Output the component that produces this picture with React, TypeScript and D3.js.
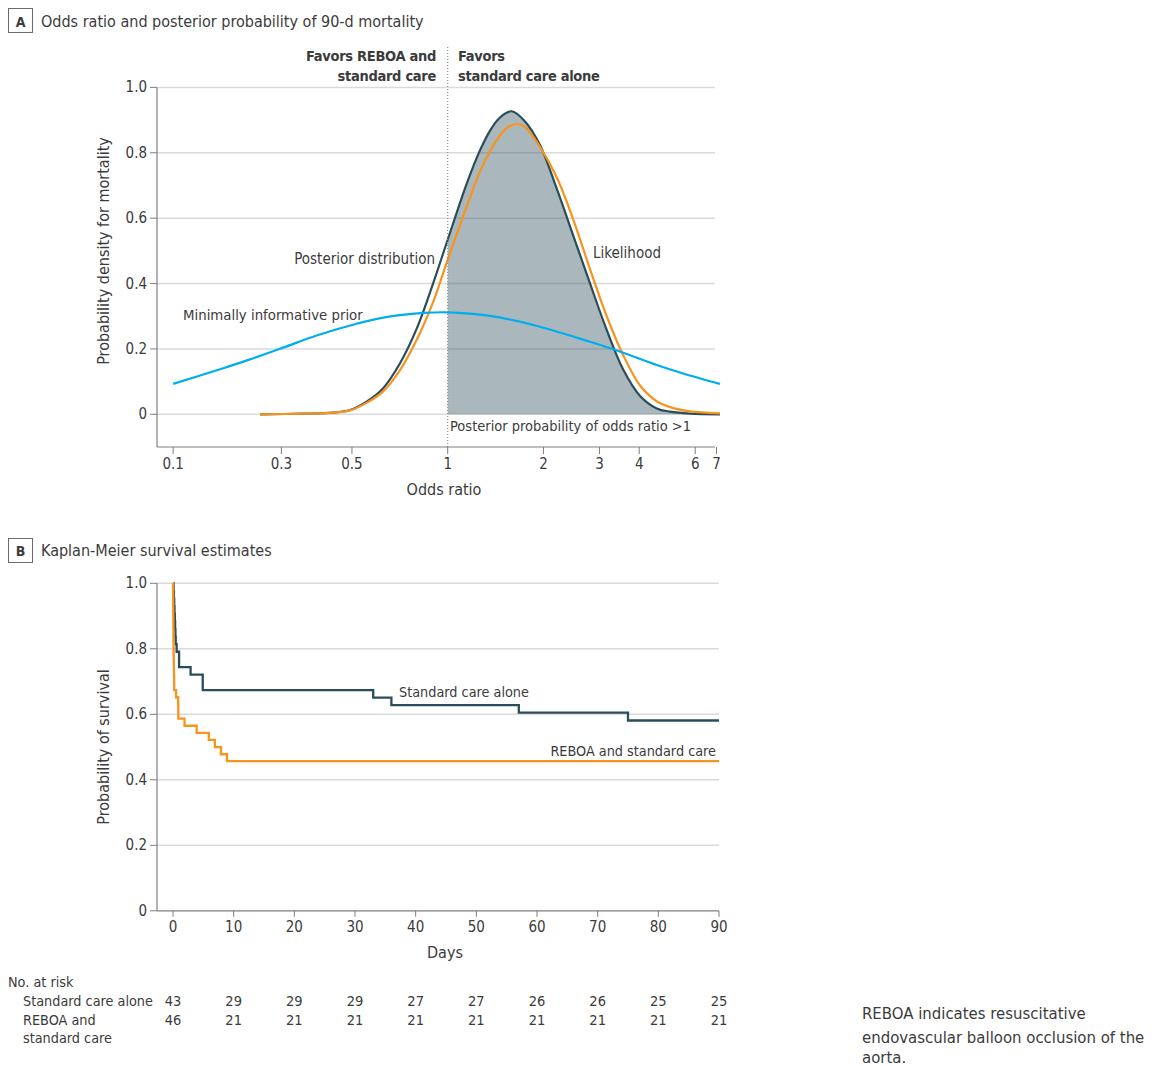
import React from 'react';
import * as d3 from 'd3';

// Panel A: densities (odds ratio, density)
const PRIOR_OR = [0.137, 0.197, 0.239, 0.304, 0.387, 0.517, 0.627, 0.838, 1.0, 1.359, 1.95, 2.8, 3.32, 4.54, 5.5, 7.18];
const PRIOR_D = [0.093, 0.141, 0.168, 0.204, 0.241, 0.277, 0.296, 0.31, 0.312, 0.301, 0.268, 0.222, 0.199, 0.151, 0.125, 0.093];

const POST_OR = [0.257, 0.35, 0.436, 0.493, 0.556, 0.627, 0.708, 0.799, 0.901, 1.0, 1.147, 1.264, 1.359, 1.46, 1.589, 1.75, 1.95, 2.202, 2.483, 2.8, 3.162, 3.566, 4.025, 4.54, 5.0, 5.78, 7.18];
const POST_D = [0, 0.002, 0.005, 0.013, 0.039, 0.08, 0.156, 0.262, 0.402, 0.534, 0.705, 0.808, 0.868, 0.908, 0.927, 0.896, 0.824, 0.69, 0.546, 0.401, 0.258, 0.136, 0.056, 0.018, 0.008, 0.002, 0];

const LIK_OR = [0.257, 0.35, 0.436, 0.493, 0.556, 0.627, 0.708, 0.799, 0.901, 1.0, 1.147, 1.264, 1.359, 1.46, 1.548, 1.648, 1.75, 1.95, 2.202, 2.483, 2.8, 3.162, 3.566, 4.025, 4.54, 5.0, 5.78, 7.18];
const LIK_D = [0, 0.002, 0.005, 0.012, 0.035, 0.07, 0.135, 0.228, 0.345, 0.473, 0.635, 0.743, 0.805, 0.853, 0.879, 0.888, 0.879, 0.818, 0.725, 0.595, 0.445, 0.3, 0.18, 0.088, 0.04, 0.022, 0.009, 0.003];

// x ticks: the leftmost "0.1" label sits at the plot's left edge
const OR_TICKS = [0.137, 0.3, 0.5, 1, 2, 3, 4, 6, 7];
const OR_TICK_LABELS = ['0.1', '0.3', '0.5', '1', '2', '3', '4', '6', '7'];
const DENS_TICKS = [0, 0.2, 0.4, 0.6, 0.8, 1.0];

// Panel B: Kaplan-Meier steps (day, survival)
const STD_T = [0, 0.1, 0.15, 0.2, 0.25, 0.3, 0.35, 0.4, 0.45, 0.6, 1.0, 2.9, 4.9, 33, 36, 57, 75, 90];
const STD_S = [1, 0.977, 0.953, 0.93, 0.907, 0.884, 0.86, 0.837, 0.814, 0.791, 0.744, 0.721, 0.674, 0.651, 0.628, 0.605, 0.581, 0.581];

const RB_T = [0, 0.01, 0.02, 0.03, 0.04, 0.05, 0.06, 0.07, 0.08, 0.09, 0.1, 0.12, 0.14, 0.16, 0.18, 0.2, 0.5, 0.85, 0.87, 0.88, 1.9, 3.9, 5.9, 6.9, 7.9, 8.9, 90];
const RB_S = [1, 0.978, 0.957, 0.935, 0.913, 0.891, 0.87, 0.848, 0.826, 0.804, 0.783, 0.761, 0.739, 0.717, 0.696, 0.674, 0.652, 0.63, 0.609, 0.587, 0.565, 0.543, 0.522, 0.5, 0.478, 0.457, 0.457];

const DAY_TICKS = [0, 10, 20, 30, 40, 50, 60, 70, 80, 90];
const SURV_TICKS = [0, 0.2, 0.4, 0.6, 0.8, 1.0];
const STD_AT_RISK = [43, 29, 29, 29, 27, 27, 26, 26, 25, 25];
const RB_AT_RISK = [46, 21, 21, 21, 21, 21, 21, 21, 21, 21];

const FONT = "'Liberation Sans Narrow', 'DejaVu Sans Condensed', 'Open Sans', sans-serif";
const TEXT = '#3b3b3b';
const GRID = '#dadada';
const AXIS = '#7f7f7f';
const DARK = '#2a4d5a';
const ORANGE = '#f7941d';
const BLUE = '#00aeef';

const zip = (a: number[], b: number[]) => a.map((v, i) => [v, b[i]] as [number, number]);

export default function App() {
  // ---- panel A scales
  const xA = d3.scaleLog().domain([1, 7]).range([447.7, 716.5]);
  const yA = d3.scaleLinear().domain([-0.1, 1]).range([447, 87.4]);
  const curve = d3.curveCatmullRom.alpha(0.5);
  const lineA = d3
    .line<[number, number]>()
    .x((d) => xA(d[0]))
    .y((d) => yA(Math.max(0, d[1])))
    .curve(curve);
  const post = zip(POST_OR, POST_D);
  const areaA = d3
    .area<[number, number]>()
    .x((d) => xA(d[0]))
    .y0(yA(0))
    .y1((d) => yA(d[1]))
    .curve(curve);

  // ---- panel B scales
  const xB = d3.scaleLinear().domain([0, 90]).range([173, 719]);
  const yB = d3.scaleLinear().domain([0, 1]).range([910.8, 583.3]);
  const stepB = d3
    .line<[number, number]>()
    .x((d) => xB(d[0]))
    .y((d) => yB(d[1]))
    .curve(d3.curveStepAfter);

  const gridLeft = 157;
  const t = { fontFamily: FONT, fill: TEXT };
  const bold = { fontSize: 14.5, fontWeight: 'bold', letterSpacing: -0.3, ...t };

  return (
    <svg
      width={1158}
      height={1066}
      style={{ position: 'absolute', left: 0, top: 0, display: 'block', background: '#fff' }}
    >
      {/* ===== Panel A ===== */}
      <rect x={8.5} y={8.5} width={24} height={24} fill="none" stroke="#6b6b6b" />
      <text x={20.5} y={26.5} textAnchor="middle" fontWeight="bold" fontSize={14} {...t}>A</text>
      <text x={41} y={27} fontSize={16} {...t}>Odds ratio and posterior probability of 90-d mortality</text>

      {DENS_TICKS.map((v) => (
        <g key={'ga' + v}>
          <line x1={gridLeft} x2={715} y1={yA(v)} y2={yA(v)} stroke={GRID} strokeWidth={1.5} />
          <line x1={150} x2={gridLeft} y1={yA(v)} y2={yA(v)} stroke={AXIS} />
          <text x={147} y={yA(v) + 5} textAnchor="end" fontSize={15} {...t}>
            {v === 0 ? '0' : v.toFixed(1)}
          </text>
        </g>
      ))}

      <path d={areaA(post.filter((d) => d[0] >= 1)) ?? ''} fill={DARK} fillOpacity={0.4} />
      <path d={lineA(post) ?? ''} fill="none" stroke={DARK} strokeWidth={2.2} />
      <path d={lineA(zip(LIK_OR, LIK_D)) ?? ''} fill="none" stroke={ORANGE} strokeWidth={2.2} />
      <path d={lineA(zip(PRIOR_OR, PRIOR_D)) ?? ''} fill="none" stroke={BLUE} strokeWidth={2.2} />

      <line x1={xA(1)} x2={xA(1)} y1={47} y2={447} stroke="#8a8a8a" strokeWidth={1.2} strokeDasharray="1,2" />

      <line x1={gridLeft} x2={gridLeft} y1={yA(1)} y2={yA(-0.1)} stroke={AXIS} strokeWidth={1.2} />
      <line x1={gridLeft} x2={715} y1={yA(-0.1)} y2={yA(-0.1)} stroke={AXIS} strokeWidth={1.2} />
      {OR_TICKS.map((v, i) => (
        <g key={'ta' + v}>
          <line x1={xA(v)} x2={xA(v)} y1={yA(-0.1)} y2={yA(-0.1) + 7} stroke={AXIS} />
          <text x={xA(v)} y={469} textAnchor="middle" fontSize={15} {...t}>{OR_TICK_LABELS[i]}</text>
        </g>
      ))}
      <text x={444} y={495} textAnchor="middle" fontSize={16} {...t}>Odds ratio</text>
      <text transform="translate(109,251) rotate(-90)" textAnchor="middle" fontSize={16} {...t}>
        Probability density for mortality
      </text>

      <text x={436} y={61} textAnchor="end" {...bold}>Favors REBOA and</text>
      <text x={436} y={81} textAnchor="end" {...bold}>standard care</text>
      <text x={458} y={61} {...bold}>Favors</text>
      <text x={458} y={81} {...bold}>standard care alone</text>

      <text x={435} y={264} textAnchor="end" fontSize={15} {...t}>Posterior distribution</text>
      <text x={593} y={258} fontSize={15} {...t}>Likelihood</text>
      <text x={183} y={320} fontSize={14.8} {...t}>Minimally informative prior</text>
      <text x={450} y={431} fontSize={14.5} {...t}>Posterior probability of odds ratio &gt;1</text>

      {/* ===== Panel B ===== */}
      <rect x={8.5} y={538.5} width={24} height={24} fill="none" stroke="#6b6b6b" />
      <text x={20.5} y={556} textAnchor="middle" fontWeight="bold" fontSize={14} {...t}>B</text>
      <text x={41} y={556} fontSize={16} {...t}>Kaplan-Meier survival estimates</text>

      {SURV_TICKS.map((v) => (
        <g key={'gb' + v}>
          {v > 0 && <line x1={gridLeft} x2={719} y1={yB(v)} y2={yB(v)} stroke={GRID} strokeWidth={1.5} />}
          <line x1={150} x2={gridLeft} y1={yB(v)} y2={yB(v)} stroke={AXIS} />
          <text x={147} y={yB(v) + 5} textAnchor="end" fontSize={15} {...t}>
            {v === 0 ? '0' : v.toFixed(1)}
          </text>
        </g>
      ))}
      <line x1={gridLeft} x2={gridLeft} y1={yB(1)} y2={yB(0)} stroke={AXIS} strokeWidth={1.2} />
      <line x1={gridLeft} x2={719} y1={yB(0)} y2={yB(0)} stroke={AXIS} strokeWidth={1.2} />
      {DAY_TICKS.map((v) => (
        <g key={'tb' + v}>
          <line x1={xB(v)} x2={xB(v)} y1={yB(0)} y2={yB(0) + 6} stroke={AXIS} />
          <text x={xB(v)} y={932} textAnchor="middle" fontSize={15} {...t}>{v}</text>
        </g>
      ))}
      <text x={445} y={958} textAnchor="middle" fontSize={16} {...t}>Days</text>
      <text transform="translate(109,747) rotate(-90)" textAnchor="middle" fontSize={16} {...t}>
        Probability of survival
      </text>

      <path d={stepB(zip(STD_T, STD_S)) ?? ''} fill="none" stroke={DARK} strokeWidth={2.3} />
      <path d={stepB(zip(RB_T, RB_S)) ?? ''} fill="none" stroke={ORANGE} strokeWidth={2.3} />

      <text x={399} y={697} fontSize={14.3} {...t}>Standard care alone</text>
      <text x={716} y={756} textAnchor="end" fontSize={14.3} {...t}>REBOA and standard care</text>

      {/* number at risk */}
      <text x={8} y={987} fontSize={14.3} {...t}>No. at risk</text>
      <text x={23} y={1006} fontSize={14.3} {...t}>Standard care alone</text>
      <text x={23} y={1025} fontSize={14.3} {...t}>REBOA and</text>
      <text x={23} y={1043} fontSize={14.3} {...t}>standard care</text>
      {DAY_TICKS.map((d, i) => (
        <g key={'nr' + d}>
          <text x={xB(d)} y={1006} textAnchor="middle" fontSize={14.5} {...t}>{STD_AT_RISK[i]}</text>
          <text x={xB(d)} y={1025} textAnchor="middle" fontSize={14.5} {...t}>{RB_AT_RISK[i]}</text>
        </g>
      ))}

      {/* footnote */}
      <text x={862} y={1019} fontSize={16.6} {...t}>REBOA indicates resuscitative</text>
      <text x={862} y={1043} fontSize={16.6} {...t}>endovascular balloon occlusion of the</text>
      <text x={862} y={1063} fontSize={16.6} {...t}>aorta.</text>
    </svg>
  );
}
